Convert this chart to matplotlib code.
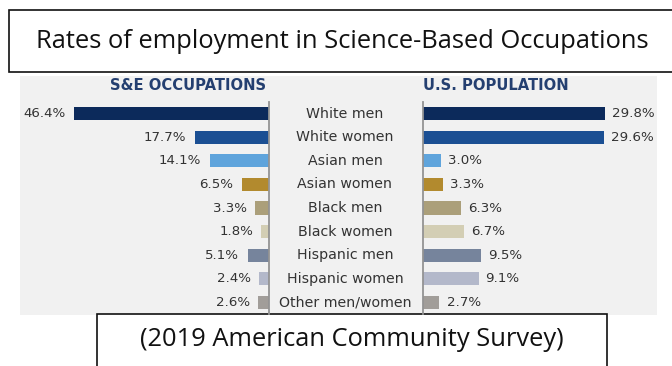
import matplotlib
matplotlib.use("Agg")
import matplotlib.pyplot as plt
from matplotlib.patches import Rectangle

groups = ["White men", "White women", "Asian men", "Asian women", "Black men",
          "Black women", "Hispanic men", "Hispanic women", "Other men/women"]
se_share = [46.4, 17.7, 14.1, 6.5, 3.3, 1.8, 5.1, 2.4, 2.6]
pop_share = [29.8, 29.6, 3.0, 3.3, 6.3, 6.7, 9.5, 9.1, 2.7]
colors = ["#0c2a5b", "#1b4f93", "#5fa4dc", "#b28a2e", "#ab9f7a",
          "#d3ceb4", "#76849c", "#b3b8ca", "#a19d99"]

title = "Rates of employment in Science-Based Occupations"
source = "(2019 American Community Survey)"

W, H = 672, 366
fig = plt.figure(figsize=(W / 100, H / 100), dpi=100)
fig.patch.set_facecolor("white")

def box(x0, y0, x1, y1):
    # pixel box (top-left origin) -> figure fraction rect
    return [x0 / W, 1 - y1 / H, (x1 - x0) / W, (y1 - y0) / H]

def add_rect(x0, y0, x1, y1, z, **kw):
    l, b, w, h = box(x0, y0, x1, y1)
    fig.patches.append(Rectangle((l, b), w, h, transform=fig.transFigure,
                                 zorder=z, **kw))

# title box
add_rect(9, 10, 673, 72, -2, facecolor="white", edgecolor="#111111", lw=1.2)
fig.text(342 / W, 1 - 42 / H, title, ha="center", va="center",
         fontsize=18.4, family="Open Sans", color="#111111")

# chart panel background
add_rect(20, 76, 657, 315, -2, facecolor="#f1f1f1", edgecolor="none")

# source box
add_rect(97, 314, 607, 370, -1, facecolor="white", edgecolor="#111111", lw=1.2)
fig.text(352 / W, 1 - 340 / H, source, ha="center", va="center",
         fontsize=18.4, family="Open Sans", color="#111111")

row_top, row_bot = 101.7, 314.3
ax_l = fig.add_axes(box(20, row_top, 269, row_bot))
ax_r = fig.add_axes(box(423, row_top, 657, row_bot))

ypos = list(range(len(groups)))
value_font = dict(fontsize=9.6, family="DejaVu Sans", color="#333333")
name_font = dict(fontsize=10.2, family="DejaVu Sans", color="#333333")

ax_l.barh(ypos, se_share, height=0.56, color=colors)
ax_l.set_xlim(59.3, 0)
for y, v in zip(ypos, se_share):
    ax_l.text(v + 2.0, y, f"{v}%", ha="right", va="center", **value_font)

ax_r.barh(ypos, pop_share, height=0.56, color=colors)
ax_r.set_xlim(0, 38.3)
for y, v in zip(ypos, pop_share):
    ax_r.text(v + 1.15, y, f"{v}%", ha="left", va="center", **value_font)

for ax in (ax_l, ax_r):
    ax.set_ylim(len(groups) - 0.5, -0.5)
    ax.set_facecolor("none")
    ax.set_xticks([])
    ax.set_yticks([])
    for s in ax.spines.values():
        s.set_visible(False)
ax_l.spines["right"].set_visible(True)
ax_l.spines["right"].set_color("#939393")
ax_l.spines["right"].set_linewidth(1.3)
ax_r.spines["left"].set_visible(True)
ax_r.spines["left"].set_color("#939393")
ax_r.spines["left"].set_linewidth(1.3)

# category names between the panels
for y, g in zip(ypos, groups):
    yp = row_top + (y + 0.5) * (row_bot - row_top) / len(groups)
    fig.text(345 / W, 1 - yp / H, g, ha="center", va="center", **name_font)

head = dict(fontsize=10.6, family="DejaVu Sans", fontweight="bold", color="#243f70")
fig.text(188 / W, 1 - 86 / H, "S&E OCCUPATIONS", ha="center", va="center", **head)
fig.text(423 / W, 1 - 86 / H, "U.S. POPULATION", ha="left", va="center", **head)

fig.savefig("out.png", dpi=100, facecolor="white")
